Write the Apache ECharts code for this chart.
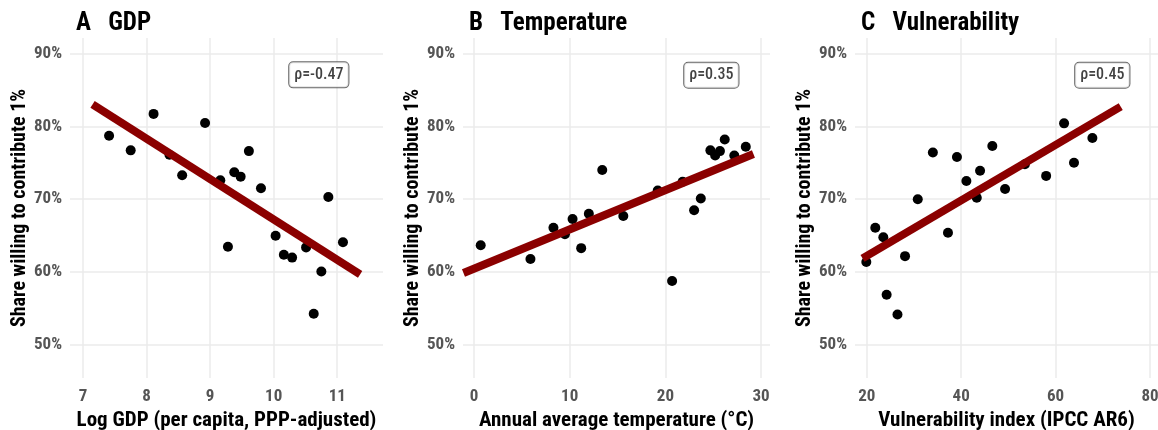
<!DOCTYPE html>
<html>
<head>
<meta charset="utf-8">
<script src="https://cdn.jsdelivr.net/npm/echarts@6/dist/echarts.min.js"></script>
<style>
  * { margin: 0; padding: 0; }
  body { background: #fff; }
</style>
</head>
<body>
<div id="main" style="width: 1158px;height: 430px;"></div>
<script>
  // A: GDP
  var gdpPoints = [
    [7.41, 78.7], [7.75, 76.7], [8.11, 81.7], [8.36, 76.1], [8.56, 73.3],
    [8.92, 80.45], [9.16, 72.6], [9.38, 73.7], [9.48, 73.1], [9.61, 76.6],
    [9.80, 71.5], [10.86, 70.3], [9.28, 63.5], [10.03, 65.0], [10.16, 62.4],
    [10.29, 62.0], [10.51, 63.4], [10.75, 60.1], [11.09, 64.1], [10.63, 54.3]
  ];
  var gdpLine = [[7.15, 83.0], [11.36, 59.7]];

  // B: Temperature
  var tempPoints = [
    [0.7, 63.7], [5.9, 61.8], [8.3, 66.1], [9.5, 65.2], [10.3, 67.3],
    [11.2, 63.3], [12.0, 68.0], [13.4, 74.0], [15.6, 67.7], [19.2, 71.2],
    [20.7, 58.8], [21.8, 72.4], [23.0, 68.5], [23.7, 70.1], [24.7, 76.7],
    [25.2, 76.0], [25.7, 76.6], [26.2, 78.2], [27.2, 76.0], [28.4, 77.2]
  ];
  var tempLine = [[-1.1, 59.9], [29.2, 76.2]];

  // C: Vulnerability
  var vulnPoints = [
    [19.9, 61.4], [21.8, 66.1], [23.5, 64.8], [24.2, 56.9], [26.5, 54.2],
    [28.1, 62.2], [30.8, 70.0], [34.0, 76.4], [37.2, 65.4], [39.1, 75.8],
    [41.1, 72.5], [43.3, 70.2], [44.0, 73.9], [46.6, 77.3], [49.3, 71.4],
    [53.5, 74.8], [58.0, 73.2], [61.8, 80.4], [63.9, 75.0], [67.8, 78.4]
  ];
  var vulnLine = [[19.1, 61.9], [73.8, 82.7]];

  var titles = ['A   GDP', 'B   Temperature', 'C   Vulnerability'];
  var xNames = ['Log GDP (per capita, PPP-adjusted)', 'Annual average temperature (°C)', 'Vulnerability index (IPCC AR6)'];
  var yName = 'Share willing to contribute 1%';
  var rhoText = ['ρ=-0.47', 'ρ=0.35', 'ρ=0.45'];
  var rhoPos = [[10.71, 87.05], [24.8, 87.0], [69.9, 87.0]];
  var xRange = [[6.795, 11.72], [-1.15, 30.93], [17.5, 81.7]];
  var xSplit = [5, 3, 3];
  var yRange = [45.5, 92.1];

  var font = "'Roboto Condensed', 'Liberation Sans Narrow', Roboto, sans-serif";
  var gridPos = [
    { left: 70, width: 313 },
    { left: 463, width: 307 },
    { left: 855, width: 303 }
  ];
  var allPoints = [gdpPoints, tempPoints, vulnPoints];
  var allLines = [gdpLine, tempLine, vulnLine];

  var mycharts = echarts.init(document.getElementById('main'));
  var option = {
    backgroundColor: '#fff',
    animation: false,
    title: [], grid: [], xAxis: [], yAxis: [], series: []
  };

  for (var i = 0; i < 3; i++) {
    option.title.push({
      text: titles[i],
      left: gridPos[i].left + 1,
      top: 6,
      textStyle: { fontFamily: font, fontWeight: 'bold', fontSize: 25, color: '#000' }
    });
    option.grid.push({
      left: gridPos[i].left, width: gridPos[i].width, top: 38, height: 340,
      outerBoundsMode: 'none', containLabel: false
    });
    option.xAxis.push({
      type: 'value', gridIndex: i,
      min: xRange[i][0], max: xRange[i][1], splitNumber: xSplit[i],
      name: xNames[i], nameLocation: 'middle', nameGap: 32, nameMoveOverlap: false,
      nameTextStyle: { fontFamily: font, fontWeight: 'bold', fontSize: 21, color: '#000' },
      axisLine: { show: false }, axisTick: { show: false },
      axisLabel: { showMinLabel: false, showMaxLabel: false, margin: 10,
        fontFamily: font, fontWeight: 'bold', fontSize: 17, color: '#555' },
      splitLine: { showMinLine: false, showMaxLine: false, lineStyle: { color: '#ebebeb', width: 1.5 } }
    });
    option.yAxis.push({
      type: 'value', gridIndex: i,
      min: yRange[0], max: yRange[1],
      name: yName, nameLocation: 'middle', nameGap: 40,
      nameTextStyle: { fontFamily: font, fontWeight: 'bold', fontSize: 20, color: '#000' },
      axisLine: { show: false }, axisTick: { show: false },
      axisLabel: { showMinLabel: false, showMaxLabel: false, margin: 8,
        fontFamily: font, fontWeight: 'bold', fontSize: 17, color: '#555',
        formatter: function (v) { return v + '%'; } },
      splitLine: { showMinLine: false, showMaxLine: false, lineStyle: { color: '#ebebeb', width: 1.5 } }
    });
    option.series.push({
      type: 'scatter', xAxisIndex: i, yAxisIndex: i,
      data: allPoints[i], symbolSize: 10,
      itemStyle: { color: '#000', opacity: 1 }, z: 2
    });
    option.series.push({
      type: 'line', xAxisIndex: i, yAxisIndex: i,
      data: allLines[i], symbol: 'none',
      lineStyle: { color: '#8b0000', width: 8 }, z: 3
    });
    option.series.push({
      type: 'scatter', xAxisIndex: i, yAxisIndex: i,
      data: [rhoPos[i]], symbolSize: 1,
      itemStyle: { color: 'rgba(0,0,0,0)' },
      label: {
        show: true, position: 'inside', formatter: rhoText[i],
        fontFamily: font, fontWeight: 500, fontSize: 16, color: '#111',
        backgroundColor: '#fff', borderColor: '#444', borderWidth: 1,
        borderRadius: 4, padding: [5, 5, 4, 5]
      }, z: 4
    });
  }

  mycharts.setOption(option);
</script>
</body>
</html>
